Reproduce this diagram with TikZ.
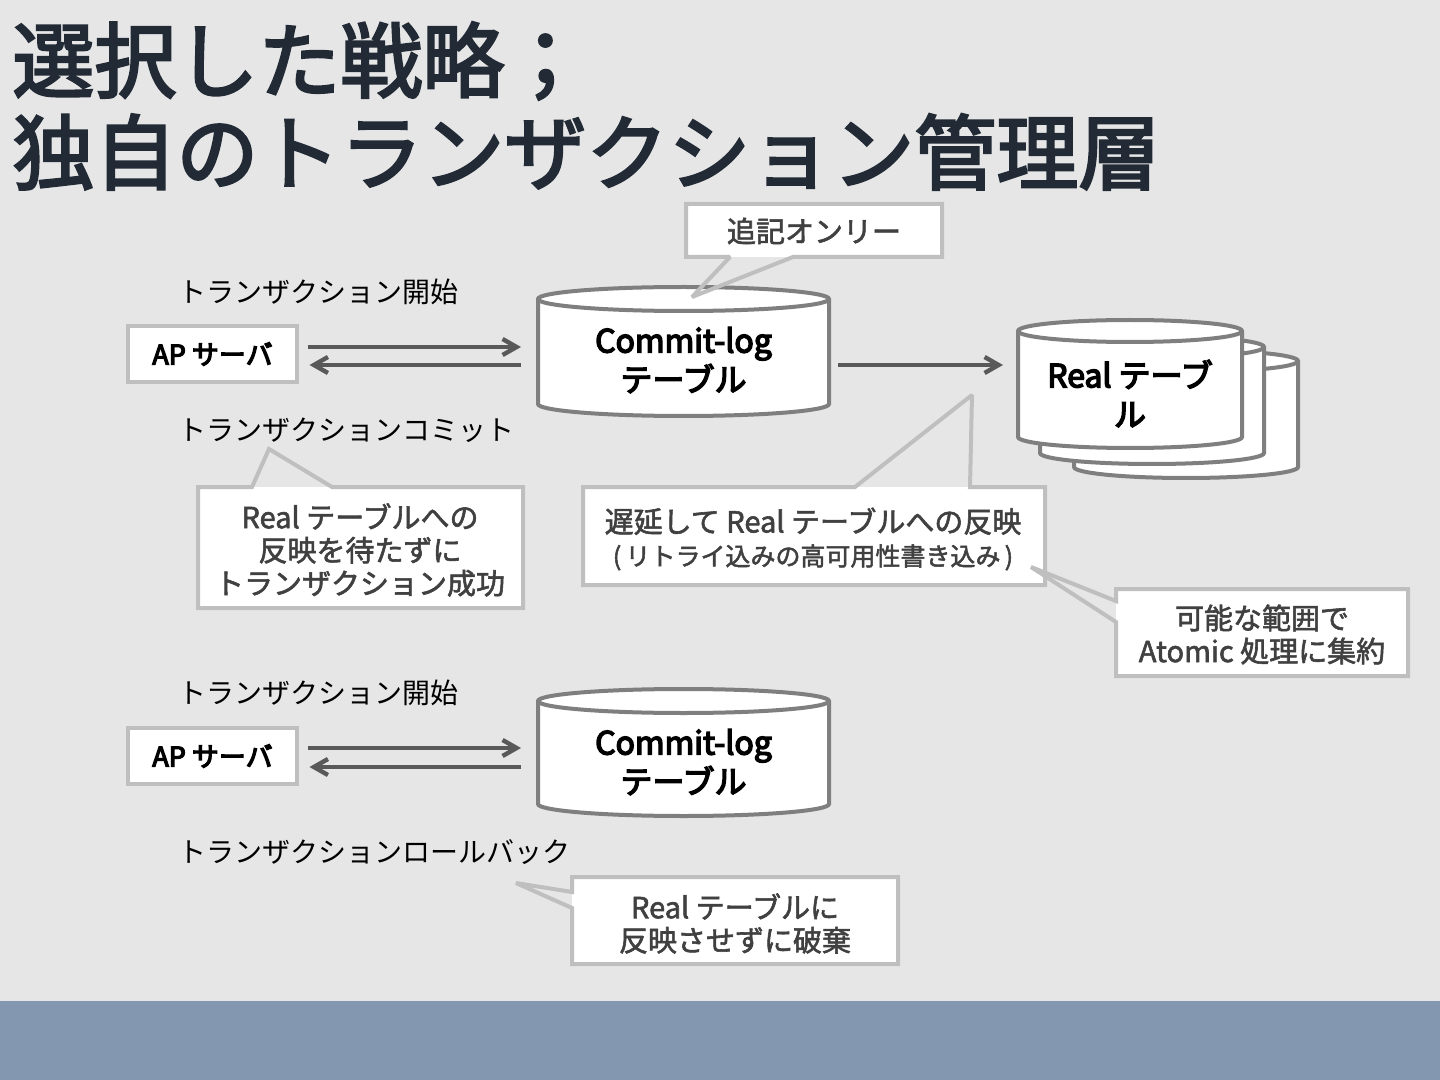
\documentclass[tikz,border=0pt]{standalone}
\usepackage{fontspec}
\setmainfont{Noto Sans CJK JP}
\newfontfamily\medfont[FakeBold=2]{Noto Sans CJK JP}
\newfontfamily\semifont[FakeBold=3]{Noto Sans CJK JP}
\newfontfamily\boxfont[FakeBold=4.5]{Noto Sans CJK JP}
\usetikzlibrary{arrows.meta,calc}
\definecolor{bgc}{HTML}{E6E6E6}
\definecolor{bandc}{HTML}{8497B0}
\definecolor{titlec}{HTML}{222A35}
\definecolor{boxline}{HTML}{BFBFBF}
\definecolor{cylline}{HTML}{7F7F7F}
\definecolor{arrc}{HTML}{595959}
\definecolor{calltext}{HTML}{404040}
\tikzset{
  lbl/.style={anchor=west, inner sep=0pt, font=\fontsize{14}{16}\selectfont, text=black},
  apbox/.style={draw=boxline, fill=white, line width=2pt, minimum width=84.5pt, minimum height=28pt, inner sep=0pt, outer sep=0pt, font=\boxfont\fontsize{13.5}{16}\selectfont},
  cylnode/.style={inner sep=0pt, outer sep=0pt, align=center, font=\boxfont\fontsize{16}{19.5}\selectfont, text=black},
  cylbody/.style={draw=cylline, fill=white, line width=2pt},
  cyledge/.style={draw=cylline, line width=2pt},
  arr/.style={draw=arrc, line width=2.2pt, -{Straight Barb[length=7pt,width=8pt]}},
  callline/.style={draw=boxline, line width=2pt, line join=miter, miter limit=2},
  calltxt/.style={align=center, inner sep=0pt, text=calltext, font=\medfont\fontsize{14.5}{16.5}\selectfont},
}
\begin{document}
\begin{tikzpicture}[x=0.5pt,y=-0.5pt]
\useasboundingbox (0,0) rectangle (1440,1080);
\fill[bgc] (0,0) rectangle (1440,1080);
\fill[bandc] (0,1001) rectangle (1440,1080);

% title
\node[anchor=west, inner sep=0pt, align=left, text=titlec, font=\semifont\fontsize{41}{46}\selectfont] (title) at (12,106) {選択した戦略；\\独自のトランザクション管理層};

% ---------- top section ----------
\node[lbl] (l1) at (178,292) {トランザクション開始};
\node[apbox] (ap1) at (212.5,354) {AP サーバ};

% commit-log cylinder 1
\draw[cylbody] (538,299) -- (538,404) arc[start angle=180,end angle=360,x radius=72.75pt,y radius=6pt] -- (829,299) arc[start angle=0,end angle=180,x radius=72.75pt,y radius=6pt] -- cycle;
\draw[cyledge] (538,299) arc[start angle=180,end angle=360,x radius=72.75pt,y radius=6pt];
\node[cylnode, minimum width=147.5pt] (cl1) at (683.5,360) {Commit-log\\テーブル};

% real table stack
\foreach \dx/\dy in {56/30,22/16,0/0}{
  \begin{scope}[shift={(\dx,\dy)}]
    \draw[cylbody] (1018,331) -- (1018,437) arc[start angle=180,end angle=360,x radius=56pt,y radius=5.5pt] -- (1242,331) arc[start angle=0,end angle=180,x radius=56pt,y radius=5.5pt] -- cycle;
    \draw[cyledge] (1018,331) arc[start angle=180,end angle=360,x radius=56pt,y radius=5.5pt];
  \end{scope}
}
\node[cylnode, minimum width=114pt] (rt) at (1130,393.5) {Real テーブ\\ル};

\node[lbl] (l2) at (178,430) {トランザクションコミット};

% arrows top
\draw[arr] ($(ap1.east)+(10.5,-7)$) -- ($(cl1.west)+(-15,-13)$);
\draw[arr] ($(cl1.west)+(-15,5)$) -- ($(ap1.east)+(12.5,11)$);
\draw[arr] ($(cl1.east)+(7,5)$) -- ($(rt.west)+(-13,-28.5)$);

% callout 1
\fill[white] (686,204) rectangle (942,257);
\draw[callline] (686,204) -- (942,204) -- (942,257) -- (793,257) -- (692,297) -- (730,257) -- (686,257) -- cycle;
\node[calltxt] (c1) at (814,231) {追記オンリー};

% callout 2
\fill[white] (198,487) rectangle (523,608);
\draw[callline] (198,487) -- (252,487) -- (269,449) -- (332,487) -- (523,487) -- (523,608) -- (198,608) -- cycle;
\node[calltxt] (c2) at (360,550) {Real テーブルへの\\反映を待たずに\\トランザクション成功};

% callout 3
\fill[white] (583,487) rectangle (1045,585);
\draw[callline] (583,487) -- (855,487) -- (972,395) -- (970,487) -- (1045,487) -- (1045,585) -- (583,585) -- cycle;
\node[calltxt] (c3) at (813,539) {遅延して Real テーブルへの反映\\\fontsize{12.5}{15.5}\selectfont (\,リトライ込みの高可用性書き込み\,)};

% callout 4
\fill[white] (1116,589) rectangle (1408,676);
\draw[callline] (1116,589) -- (1408,589) -- (1408,676) -- (1116,676) -- (1116,622) -- (1031,567) -- (1116,601) -- cycle;
\node[calltxt] (c4) at (1262,634.5) {可能な範囲で\\Atomic 処理に集約};

% ---------- bottom section ----------
\node[lbl] (l3) at (178,693) {トランザクション開始};
\node[apbox] (ap2) at (212.5,756) {AP サーバ};

\draw[cylbody] (538,701) -- (538,804) arc[start angle=180,end angle=360,x radius=72.75pt,y radius=6pt] -- (829,701) arc[start angle=0,end angle=180,x radius=72.75pt,y radius=6pt] -- cycle;
\draw[cyledge] (538,701) arc[start angle=180,end angle=360,x radius=72.75pt,y radius=6pt];
\node[cylnode, minimum width=147.5pt] (cl2) at (683.5,762) {Commit-log\\テーブル};

\draw[arr] ($(ap2.east)+(10.5,-8)$) -- ($(cl2.west)+(-15,-14)$);
\draw[arr] ($(cl2.west)+(-15,5)$) -- ($(ap2.east)+(12.5,11)$);

\node[lbl] (l4) at (178,852) {トランザクションロールバック};

% callout 5
\fill[white] (572,877) rectangle (898,964);
\draw[callline] (572,877) -- (898,877) -- (898,964) -- (572,964) -- (572,908) -- (516,883) -- (572,892) -- cycle;
\node[calltxt] (c5) at (735,923.5) {Real テーブルに\\反映させずに破棄};
\end{tikzpicture}
\end{document}
